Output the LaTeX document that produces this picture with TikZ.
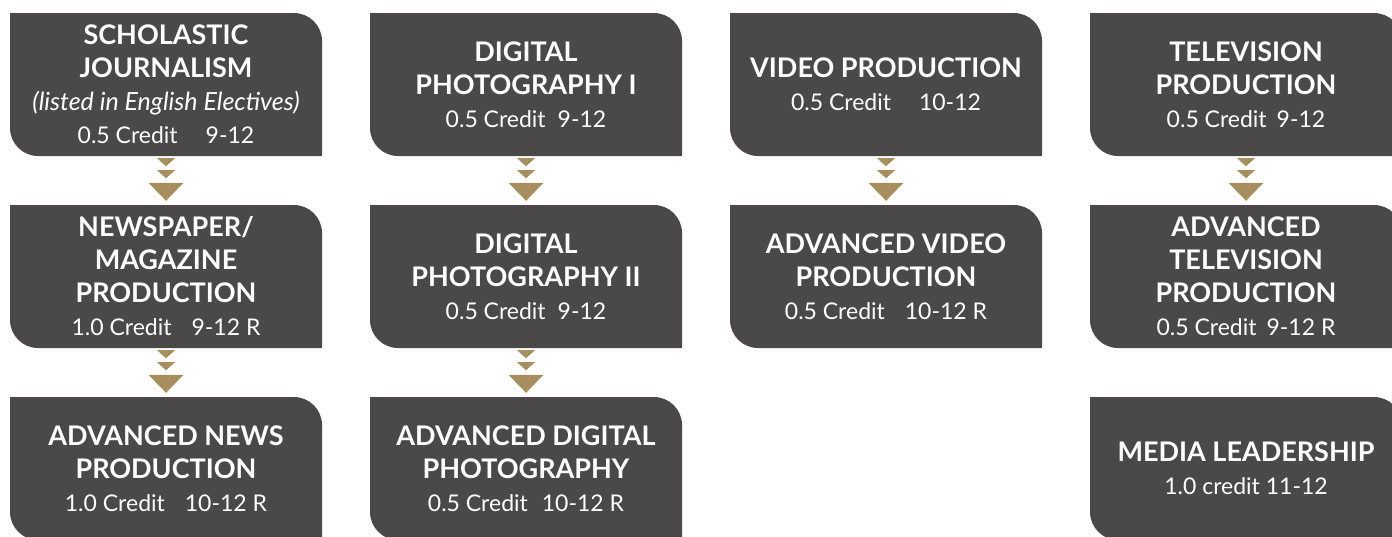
\documentclass[tikz,border=0pt]{standalone}
\usepackage{fontspec}
\setmainfont{Lato}
\usetikzlibrary{calc}

\definecolor{boxgray}{HTML}{4B4849}
\definecolor{gold}{HTML}{A68E5F}

\newcommand{\crd}[1]{{\fontsize{23}{33}\selectfont\mdseries #1}}
\newcommand{\steps}[2]{%
  \foreach \dy in {2,14}
    \fill[gold] ([yshift=-\dy pt]#1.south) +(-9,0) -- +(9,0) -- +(0,-8) -- cycle;
  \fill[gold] ([yshift=4pt]#2.north) -- +(-17.5,18) -- +(17.5,18) -- cycle;
}

\tikzset{
  course/.style={minimum width=312pt, minimum height=143pt, inner sep=0pt,
    align=center, text=white, font=\fontsize{27}{33}\selectfont\bfseries,
    path picture={\fill[boxgray] (path picture bounding box.north west)
      -- ([xshift=-28pt]path picture bounding box.north east)
      arc[start angle=90, end angle=0, radius=28pt]
      -- (path picture bounding box.south east)
      -- ([xshift=28pt]path picture bounding box.south west)
      arc[start angle=270, end angle=180, radius=28pt] -- cycle;}}
}

\begin{document}
\begin{tikzpicture}[x=1pt, y=1pt]
  \clip (0,0) rectangle (1392,-536);

  \node[course] (sj) at (166,-84.5) {SCHOLASTIC\\JOURNALISM\\{\fontsize{25}{33}\selectfont\mdseries\itshape (listed in English Electives)}\\\crd{0.5 Credit\hspace{28pt}9-12}};
  \node[course] (news) at (166,-276.5) {NEWSPAPER/\\MAGAZINE\\PRODUCTION\\\crd{1.0 Credit\hspace{20pt}9-12 R}};
  \node[course] (advnews) at (166,-468.5) {ADVANCED NEWS\\PRODUCTION\\\crd{1.0 Credit\hspace{20pt}10-12 R}};

  \node[course] (photo1) at (526,-84.5) {DIGITAL\\PHOTOGRAPHY I\\\crd{0.5 Credit\hspace{12pt}9-12}};
  \node[course] (photo2) at (526,-276.5) {DIGITAL\\PHOTOGRAPHY II\\\crd{0.5 Credit\hspace{12pt}9-12}};
  \node[course] (advphoto) at (526,-468.5) {ADVANCED DIGITAL\\PHOTOGRAPHY\\\crd{0.5 Credit\hspace{14pt}10-12 R}};

  \node[course] (video) at (886,-84.5) {VIDEO PRODUCTION\\\crd{0.5 Credit\hspace{28pt}10-12}};
  \node[course] (advvideo) at (886,-276.5) {ADVANCED VIDEO\\PRODUCTION\\\crd{0.5 Credit\hspace{20pt}10-12 R}};

  \node[course] (tv) at (1246,-84.5) {TELEVISION\\PRODUCTION\\\crd{0.5 Credit\hspace{10pt}9-12}};
  \node[course] (advtv) at (1246,-276.5) {ADVANCED\\TELEVISION\\PRODUCTION\\\crd{0.5 Credit\hspace{10pt}9-12 R}};
  \node[course] (media) at (1246,-468.5) {MEDIA LEADERSHIP\\\crd{1.0 credit 11-12}};

  \steps{sj}{news}
  \steps{news}{advnews}
  \steps{photo1}{photo2}
  \steps{photo2}{advphoto}
  \steps{video}{advvideo}
  \steps{tv}{advtv}
\end{tikzpicture}
\end{document}
